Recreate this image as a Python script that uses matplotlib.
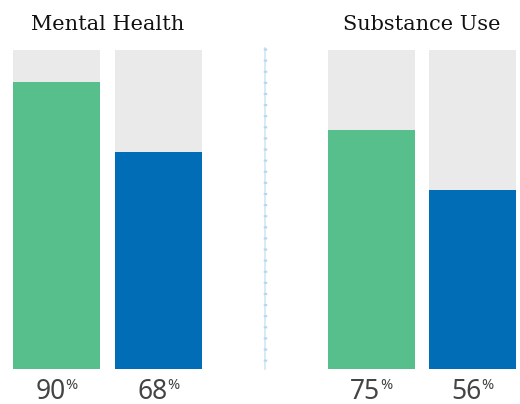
import matplotlib
matplotlib.use("Agg")
import matplotlib.pyplot as plt
from matplotlib.lines import Line2D

groups = ["Mental Health", "Substance Use"]
values = [[90, 68], [75, 56]]
colors = ["#56bf8b", "#006db6"]

W, H = 520, 404
fig = plt.figure(figsize=(W / 100, H / 100), dpi=100)

# pixel boxes for each group panel (left, right), top/bottom of bars
panels = [(13, 202), (328, 516)]
top, bottom = 50, 369
bar_w, gap = 87, 15
num_font = dict(family="Noto Sans", color="#444444")

for (x0, x1), title, vals in zip(panels, groups, values):
    ax = fig.add_axes([x0 / W, 1 - bottom / H, (x1 - x0) / W, (bottom - top) / H])
    pitch = bar_w + gap
    half = bar_w / pitch / 2
    xs = list(range(len(vals)))
    ax.bar(xs, [100] * len(vals), width=bar_w / pitch, color="#eaeaea")
    ax.bar(xs, vals, width=bar_w / pitch, color=colors)
    ax.set_xlim(-half, len(vals) - 1 + half)
    ax.set_ylim(0, 100)
    ax.axis("off")

    for x, v in zip(xs, vals):
        ax.annotate(str(v), (x, 0), xycoords="data", xytext=(9, -30),
                    textcoords="offset pixels", ha="right", va="baseline",
                    fontsize=19, **num_font)
        ax.annotate("%", (x, 0), xycoords="data", xytext=(9, -20),
                    textcoords="offset pixels", ha="left", va="baseline",
                    fontsize=10.5, **num_font)

    fig.text((x0 + x1) / 2 / W, 1 - 30 / H, title, ha="center", va="baseline",
             fontsize=15, family="DejaVu Serif", color="#111111")

# divider between groups
xd = 265 / W
fig.add_artist(Line2D([xd, xd], [1 - 48 / H, 1 - 369 / H], transform=fig.transFigure,
                      color="#cfe6f5", lw=1.2))
fig.add_artist(Line2D([xd, xd], [1 - 48 / H, 1 - 369 / H], transform=fig.transFigure,
                      color="#b5d8ee", lw=2.5, ls=(0, (0.6, 2.6))))

fig.savefig("out.png", dpi=100)
